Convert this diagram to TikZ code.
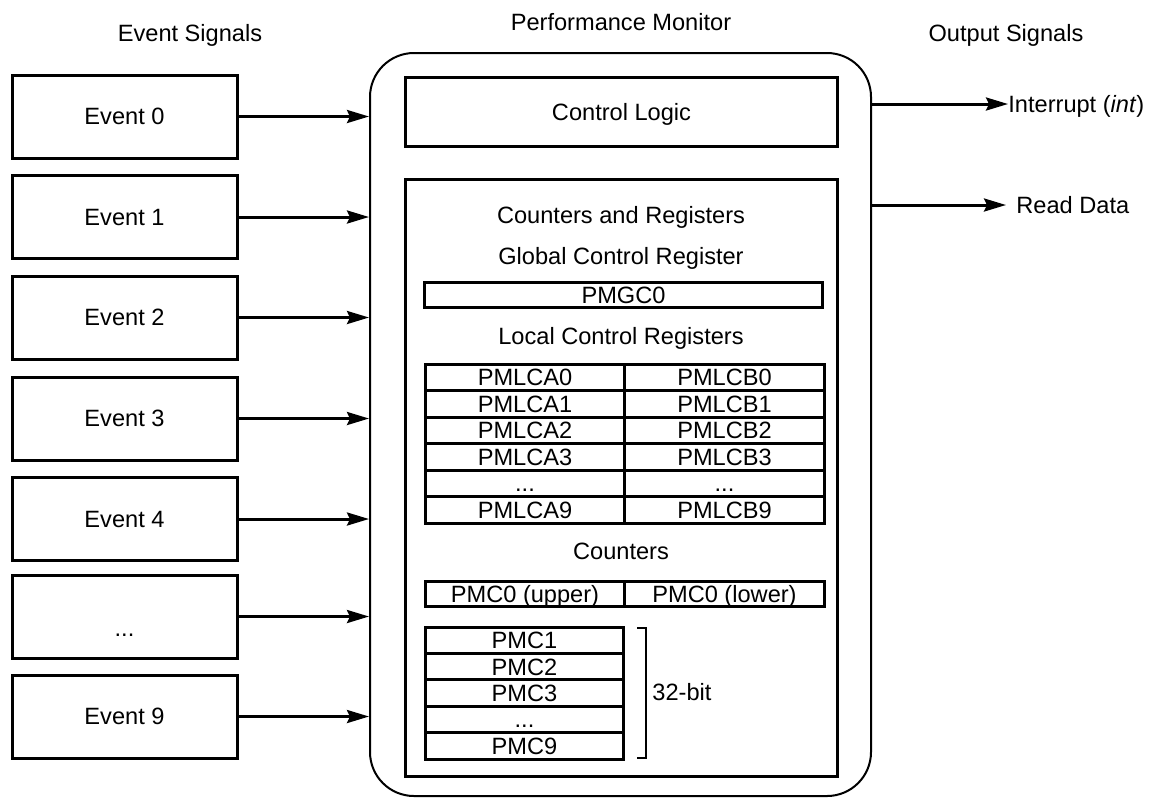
\documentclass[tikz,border=0pt]{standalone}
\usepackage{fontspec}
\setmainfont{Liberation Sans}
\usetikzlibrary{arrows.meta}
\tikzset{
  txt/.style={inner sep=0pt, text height=8.45pt, text depth=0pt, font=\fontsize{11.8}{14}\selectfont},
  evbox/.style={txt, draw, line width=1.5pt, minimum width=112.5pt, minimum height=41.5pt},
  blk/.style={txt, draw, line width=1.5pt},
  pmbox/.style={draw, line width=1pt, rounded corners=22pt, minimum width=250.5pt, minimum height=371.5pt, inner sep=0pt},
  regcell/.style={txt, draw, line width=1.5pt, minimum width=99.75pt, minimum height=13.25pt},
  pmccell/.style={txt, draw, line width=1.5pt, minimum width=98.75pt, minimum height=13.2pt},
  sig/.style={line width=1.5pt, -{Stealth[length=11pt,width=6.5pt,inset=1.5pt]}},
}
\begin{document}
\begin{tikzpicture}[x=0.5pt,y=-0.5pt]
\useasboundingbox (0,0) rectangle (1149,800);
% headers
\node[txt] (hev) at (190,33) {Event Signals};
\node[txt] (hpm) at (621,22) {Performance Monitor};
\node[txt] (hout) at (1006,33) {Output Signals};
% main box
\node[pmbox] (pm) at (620.5,424.5) {};
% event boxes
\node[evbox] (e0) at (124.5,116.5) {Event 0};
\node[evbox] (e1) at (124.5,217) {Event 1};
\node[evbox] (e2) at (124.5,317.5) {Event 2};
\node[evbox] (e3) at (124.5,418.5) {Event 3};
\node[evbox] (e4) at (124.5,519) {Event 4};
\node[evbox] (e5) at (124.5,616.5) {\raisebox{-6pt}{...}};
\node[evbox] (e9) at (124.5,716.5) {Event 9};
\foreach \e in {e0,e1,e2,e3,e4,e5,e9}{
  \draw[sig] (\e.east) -- (\e.east -| pm.west);
}
% control logic
\node[blk, minimum width=216pt, minimum height=34.5pt] (cl) at (621.5,112) {Control Logic};
% counters and registers box
\node[draw, line width=1.5pt, minimum width=216pt, minimum height=298.5pt, inner sep=0pt] (cr) at (621.5,478) {};
\node[txt] (tcr) at (621,215.5) {Counters and Registers};
\node[txt] (tgc) at (621,256.5) {Global Control Register};
\node[blk, minimum width=199pt, minimum height=12.25pt] (pmgc) at (623.5,295) {PMGC0};
\node[txt] (tlc) at (621,336) {Local Control Registers};
% local control registers table
\foreach \r/\i in {0/0,1/1,2/2,3/3,4/{...},5/9}{
  \pgfmathsetmacro{\yy}{377.5+26.5*\r}
  \ifnum\r=4
    \node[regcell] (la\r) at (525,\yy) {...};
    \node[regcell] (lb\r) at (724.5,\yy) {...};
  \else
    \node[regcell] (la\r) at (525,\yy) {PMLCA\i};
    \node[regcell] (lb\r) at (724.5,\yy) {PMLCB\i};
  \fi
}
\node[txt] (tcnt) at (621,551) {Counters};
\node[regcell, minimum height=12.5pt] (pmcu) at (525,594) {PMC0 (upper)};
\node[regcell, minimum height=12.5pt] (pmcl) at (724.5,594) {PMC0 (lower)};
% 32-bit counters
\node[pmccell] (c1) at (524.5,640.2) {PMC1};
\node[pmccell] (c2) at (524.5,666.6) {PMC2};
\node[pmccell] (c3) at (524.5,693) {PMC3};
\node[pmccell] (c4) at (524.5,719.4) {...};
\node[pmccell] (c9) at (524.5,745.8) {PMC9};
\coordinate (bt) at (646,628);
\coordinate (bb) at (646,758);
\draw[line width=0.8pt] ([xshift=-4.5pt]bt) -- (bt) -- (bb) -- ([xshift=-4.5pt]bb);
\node[txt, anchor=west] (t32) at (652,692) {32-bit};
% outputs
\node[txt, anchor=west] (intr) at (1008,104) {Interrupt (\textit{int})};
\node[txt, anchor=west] (rd) at (1016,205) {Read Data};
\coordinate (rdend) at (1006,205);
\draw[sig] (pm.east |- intr.west) -- (intr.west);
\draw[sig] (pm.east |- rdend) -- (rdend);
\end{tikzpicture}
\end{document}
